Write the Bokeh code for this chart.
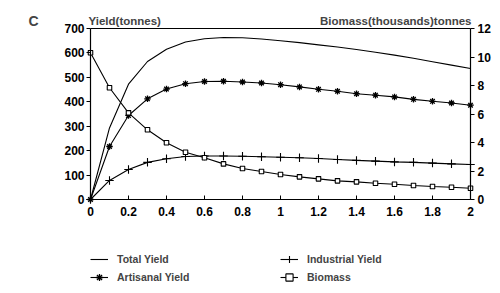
from bokeh.plotting import figure
from bokeh.models import Range1d, LinearAxis, FixedTicker, Label, Legend, LegendItem
from bokeh.embed import file_html
from bokeh.resources import INLINE

# ---- data ----
x = [0.0, 0.1, 0.2, 0.3, 0.4, 0.5, 0.6, 0.7, 0.8, 0.9, 1.0,
     1.1, 1.2, 1.3, 1.4, 1.5, 1.6, 1.7, 1.8, 1.9, 2.0]
total_yield = [0, 293, 472, 565, 615, 645, 658, 663, 662, 657, 650,
               642, 633, 624, 614, 603, 591, 578, 564, 550, 536]
artisanal_yield = [0, 217, 344, 412, 452, 474, 483, 484, 481, 477, 470,
                   461, 451, 443, 433, 427, 420, 410, 402, 395, 386]
industrial_yield = [0, 78, 123, 152, 167, 176, 178, 178, 177, 175, 173,
                    171, 168, 164, 160, 157, 154, 152, 149, 146, 143]
biomass = [10.3, 7.84, 6.08, 4.89, 3.98, 3.32, 2.93, 2.50, 2.18, 1.96, 1.75,
           1.59, 1.45, 1.31, 1.24, 1.14, 1.07, 0.98, 0.91, 0.86, 0.79]

x_ticks = [0, 0.2, 0.4, 0.6, 0.8, 1, 1.2, 1.4, 1.6, 1.8, 2]
x_tick_labels = ["0", "0.2", "0.4", "0.6", "0.8", "1", "1.2", "1.4", "1.6", "1.8", "2"]
yield_ticks = [0, 100, 200, 300, 400, 500, 600, 700]
biomass_ticks = [0, 2, 4, 6, 8, 10, 12]
series_names = ["Total Yield", "Artisanal Yield", "Industrial Yield", "Biomass"]

X_MIN, X_MAX = 0, 2
Y_MIN, Y_MAX = 0, 700
B_MIN, B_MAX = 0, 12

# ---- layout (pixels): plot box inside a 500 x 293 canvas ----
W, H = 500, 293
BOX_L, BOX_R, BOX_T, BOX_B = 90, 470, 28, 199
xs = (BOX_R - BOX_L) / (X_MAX - X_MIN)
ys = (BOX_B - BOX_T) / (Y_MAX - Y_MIN)
bs = (BOX_B - BOX_T) / (B_MAX - B_MIN)

FONT = "Liberation Sans"

p = figure(width=W, height=H, output_backend="svg", toolbar_location=None,
           x_range=Range1d(X_MIN - BOX_L / xs, X_MAX + (W - BOX_R) / xs),
           y_range=Range1d(Y_MIN - (H - BOX_B) / ys, Y_MAX + BOX_T / ys),
           min_border=0)
p.extra_y_ranges = {"bio": Range1d(B_MIN - (H - BOX_B) / bs, B_MAX + BOX_T / bs)}
p.xgrid.visible = False
p.ygrid.visible = False
p.outline_line_color = None
p.background_fill_color = "white"
p.border_fill_color = "white"

xa = p.xaxis[0]
xa.fixed_location = Y_MIN
xa.bounds = (X_MIN, X_MAX)
xa.ticker = FixedTicker(ticks=x_ticks)
xa.major_label_overrides = {t: s for t, s in zip(x_ticks, x_tick_labels)}
xa.major_tick_in = 4
xa.major_tick_out = 0
xa.major_label_standoff = 7

ya = p.yaxis[0]
ya.fixed_location = X_MIN
ya.bounds = (Y_MIN, Y_MAX)
ya.ticker = FixedTicker(ticks=yield_ticks)
ya.major_tick_in = 0
ya.major_tick_out = 4
ya.major_label_standoff = 2

right_axis = LinearAxis(y_range_name="bio", ticker=FixedTicker(ticks=biomass_ticks),
                        fixed_location=X_MAX, bounds=(B_MIN, B_MAX))
right_axis.major_tick_in = 0
right_axis.major_tick_out = 4
right_axis.major_label_standoff = 3
p.add_layout(right_axis, "right")

top_axis = LinearAxis(ticker=FixedTicker(ticks=[]), fixed_location=Y_MAX,
                      bounds=(X_MIN, X_MAX), major_label_text_font_size="0px")
top_axis.minor_tick_line_color = None
top_axis.major_tick_line_color = None
p.add_layout(top_axis, "above")

for ax in [xa, ya, right_axis, top_axis]:
    ax.minor_tick_line_color = None
    ax.axis_line_color = "black"
    ax.axis_line_width = 1.2
for ax in [xa, ya, right_axis]:
    ax.major_tick_line_color = "black"
    ax.major_label_text_font = FONT
    ax.major_label_text_font_style = "bold"
    ax.major_label_text_font_size = "12px"
    ax.major_label_text_color = "black"

lw = 1.1
l1 = p.line(x, total_yield, line_color="black", line_width=lw)
l2 = p.line(x, artisanal_yield, line_color="black", line_width=lw)
s2 = p.scatter(x, artisanal_yield, marker="asterisk", size=6.5, line_color="black", line_width=1.3)
l3 = p.line(x, industrial_yield, line_color="black", line_width=lw)
s3 = p.scatter(x, industrial_yield, marker="cross", size=8.5, line_color="black", line_width=1.1)
l4 = p.line(x, biomass, line_color="black", line_width=lw, y_range_name="bio")
s4 = p.scatter(x, biomass, marker="square", size=4.5, line_color="black", fill_color="white",
               line_width=1.1, y_range_name="bio")

legend = Legend(items=[
    LegendItem(label=series_names[0], renderers=[l1]),
    LegendItem(label=series_names[1], renderers=[l2, s2]),
    LegendItem(label=series_names[2], renderers=[l3, s3]),
    LegendItem(label=series_names[3], renderers=[l4, s4]),
], location=(BOX_L, 7), orientation="vertical", nrows=2,
    glyph_width=18, glyph_height=18, label_standoff=9, label_width=163, label_height=18,
    spacing=0, padding=0, margin=0, border_line_color=None, background_fill_alpha=0,
    label_text_font=FONT, label_text_font_style="bold", label_text_font_size="10.5px")
p.add_layout(legend)

p.add_layout(Label(x=X_MIN, y=Y_MAX, x_offset=-62, y_offset=8, text="C", text_font=FONT,
                   text_font_style="bold", text_font_size="14px", text_baseline="alphabetic"))
p.add_layout(Label(x=X_MIN, y=Y_MAX, x_offset=-2, y_offset=8, text="Yield(tonnes)",
                   text_font=FONT, text_font_style="bold", text_font_size="11.5px",
                   text_baseline="alphabetic"))
p.add_layout(Label(x=X_MAX, y=Y_MAX, x_offset=1, y_offset=8, text="Biomass(thousands)tonnes",
                   text_font=FONT, text_font_style="bold", text_font_size="11.5px",
                   text_align="right", text_baseline="alphabetic"))

open("out.html", "w").write(file_html(p, INLINE))
